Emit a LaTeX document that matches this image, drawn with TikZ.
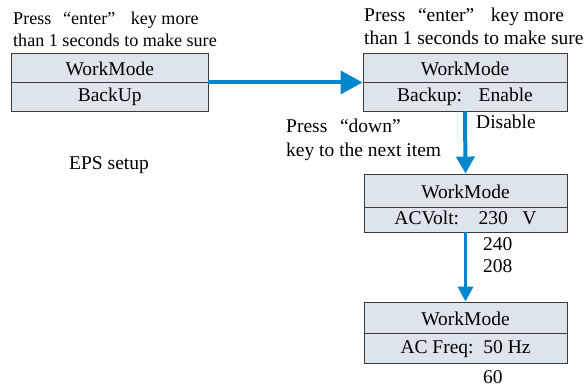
\documentclass[tikz,border=0pt]{standalone}
\usepackage{fontspec}
\setmainfont{Liberation Serif}
\usetikzlibrary{arrows.meta}
\definecolor{cellfill}{RGB}{221,228,234}
\definecolor{cellline}{RGB}{60,60,60}
\definecolor{keyblue}{RGB}{0,134,204}
\tikzset{
  cell/.style={
    rectangle,
    draw=cellline,
    fill=cellfill,
    line width=0.9pt,
    inner sep=0pt,
    font=\fontsize{19.5}{23}\selectfont
  },
  head/.style={cell, text height=16pt, text depth=0pt},
  item/.style={cell, text height=11pt, text depth=0pt},
  note/.style={
    inner sep=0pt,
    align=left,
    font=\fontsize{19.5}{23}\selectfont
  }
}
\tikzstyle{arrow} = [draw=keyblue, line width=4pt, -{Triangle[length=17pt, width=18pt]}]
\def\quoted#1{\hspace{0.65em}“#1”\hspace{0.85em}}

\begin{document}
\begin{tikzpicture}[x=1pt, y=-1pt]
    \useasboundingbox (0,0) rectangle (588,387);
    % hints (base = last line)
    \node[note, anchor=base west, font=\fontsize{18.1}{22}\selectfont] (hint1) at (13,47) {Press\quoted{enter}key more\\than 1 seconds to make sure};
    \node[note, anchor=base west] (hint2) at (364,45) {Press\quoted{enter}key more\\than 1 seconds to make sure};
    \node[note, anchor=base west, font=\fontsize{19.5}{24}\selectfont] (hint3) at (286,157) {Press\quoted{down}\\key to the next item};
    \node[note, anchor=base west] (eps) at (69,170) {EPS setup};
    % menu boxes
    \node[head, minimum width=196.5pt, minimum height=29pt] (m1h) at (109.75,67.5) {WorkMode};
    \node[item, minimum width=196.5pt, minimum height=29pt] (m1v) at (109.75,96.5) {BackUp};
    \node[head, minimum width=204pt, minimum height=29pt] (m2h) at (465,67.5) {WorkMode};
    \node[item, minimum width=204pt, minimum height=29pt] (m2v) at (465,96.5) {Backup:\hspace{0.85em}Enable};
    \node[head, minimum width=203pt, minimum height=33pt] (m3h) at (465.5,190.5) {WorkMode};
    \node[item, minimum width=203pt, minimum height=25pt] (m3v) at (465.5,219.5) {ACVolt:\hspace{1em}230\hspace{0.75em}V};
    \node[head, minimum width=203pt, minimum height=31pt] (m4h) at (465.5,317.5) {WorkMode};
    \node[item, minimum width=203pt, minimum height=30pt] (m4v) at (465.5,348) {AC Freq:\hspace{0.5em}50 Hz};
    % other values
    \node[note, anchor=base west] (dis) at (476,129) {Disable};
    \node[note, anchor=base west, font=\fontsize{19.5}{22}\selectfont] (v240) at (483,272) {240\\208};
    \node[note, anchor=base west] (f60) at (483,383) {60};
    % keys
    \draw[arrow, -{Triangle[length=22pt, width=23pt]}] (m1h.south east) -- (m2h.south west);
    \draw[arrow] (m2v.south) -- (m3h.north);
    \draw[arrow, line width=3.5pt, -{Triangle[length=15pt, width=15pt]}] (m3v.south) -- (m4h.north);
\end{tikzpicture}
\end{document}
